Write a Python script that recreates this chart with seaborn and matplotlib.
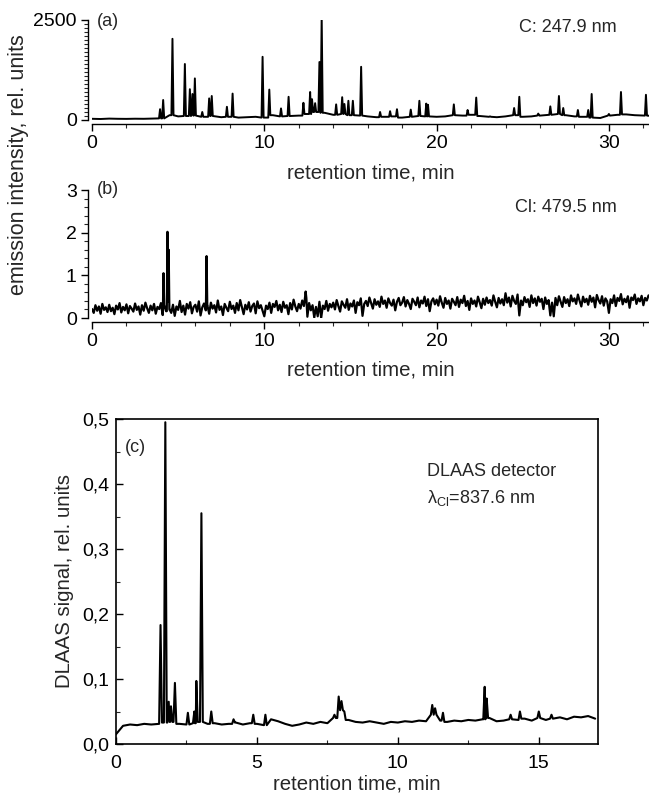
import numpy as np
import pandas as pd
import matplotlib
matplotlib.use("Agg")
import matplotlib.pyplot as plt
from matplotlib.ticker import MultipleLocator, FixedLocator, FuncFormatter
import seaborn as sns

# ---------------- data ----------------
# Panel (a): C 247.9 nm emission, baseline sampled every 0.5 min
a_step = 0.5
a_base = [30, 25, 35, 30, 28, 32, 30, 35, 40,
          120, 90, 100, 110, 80, 100, 70, 80,
          60, 70, 80, 60, 120, 90, 100, 110,
          150, 200, 180, 130, 150, 120, 110, 90,
          70, 80, 90, 60, 80, 100, 90, 80,
          90, 120, 110, 130, 100, 80, 70, 90,
          120, 80, 90, 110, 130, 150, 120, 90,
          80, 60, 50, 110, 130, 140, 120, 110, 100]
a_peak_t = [3.95, 4.13, 4.67, 5.39, 5.68, 5.83, 5.97, 6.4, 6.8, 6.95, 7.83, 8.16,
            9.9, 10.29, 10.97, 11.41, 12.27, 12.66, 12.77, 12.95, 13.2, 13.33,
            14.17, 14.52, 14.65, 14.88, 15.14, 15.62, 16.72, 17.3, 17.7, 18.5,
            19.0, 19.4, 19.5, 21.0, 21.8, 22.3, 23.1, 24.5, 24.8, 25.9, 26.6,
            27.1, 27.35, 28.2, 28.8, 29.0, 30.0, 30.7, 32.15]
a_peak_h = [270, 500, 2030, 1400, 770, 650, 1040, 200, 540, 600, 330, 660,
            1580, 760, 290, 580, 430, 700, 520, 420, 1450, 2580,
            390, 570, 400, 480, 480, 1330, 200, 220, 270, 260,
            480, 410, 380, 390, 250, 560, 90, 300, 580, 160, 340,
            600, 300, 250, 250, 650, 150, 700, 630]

# Panel (b): Cl 479.5 nm emission, sampled every 0.1 min
b_step = 0.1
b_base = [
    0.21, 0.12, 0.30, 0.17, 0.27, 0.10, 0.33, 0.19, 0.25, 0.14,
    0.31, 0.16, 0.24, 0.09, 0.29, 0.20, 0.35, 0.13, 0.26, 0.18,
    0.32, 0.11, 0.28, 0.22, 0.15, 0.34, 0.19, 0.27, 0.08, 0.30,
    0.17, 0.36, 0.23, 0.12, 0.29, 0.18, 0.33, 0.10, 0.26, 0.21,
    0.35, 0.07, 0.28, 0.16, 0.38, 0.20, 0.12, 0.31, 0.05, 0.27,
    0.19, 0.40, 0.14, 0.29, 0.08, 0.33, 0.22, 0.37, 0.11, 0.26,
    0.31, 0.15, 0.39, 0.06, 0.25, 0.34, 0.18, 0.29, 0.10, 0.36,
    0.22, 0.30, 0.13, 0.41, 0.19, 0.27, 0.07, 0.33, 0.24, 0.16,
    0.38, 0.21, 0.29, 0.12, 0.35, 0.18, 0.42, 0.25, 0.09, 0.31,
    0.20, 0.37, 0.15, 0.28, 0.34, 0.11, 0.39, 0.23, 0.30, 0.17,
    0.04, 0.29, 0.21, 0.36, 0.12, 0.33, 0.26, 0.40, 0.18, 0.31,
    0.14, 0.38, 0.24, 0.30, 0.09, 0.35, 0.20, 0.43, 0.27, 0.16,
    0.33, 0.22, 0.41, 0.28, 0.47, 0.03, 0.35, 0.18, 0.30, 0.01,
    0.26, 0.04, 0.38, 0.00, 0.29, 0.21, 0.40, 0.17, 0.33, 0.25,
    0.36, 0.20, 0.42, 0.28, 0.15, 0.39, 0.31, 0.24, 0.44, 0.19,
    0.34, 0.27, 0.41, 0.12, 0.37, 0.30, 0.46, 0.05, 0.33, 0.40,
    0.28, 0.48, 0.35, 0.22, 0.44, 0.31, 0.39, 0.26, 0.50, 0.33,
    0.41, 0.24, 0.46, 0.35, 0.29, 0.43, 0.18, 0.38, 0.47, 0.30,
    0.36, 0.49, 0.27, 0.42, 0.33, 0.21, 0.45, 0.38, 0.30, 0.48,
    0.25, 0.41, 0.34, 0.50, 0.28, 0.44, 0.16, 0.39, 0.46, 0.32,
    0.43, 0.29, 0.51, 0.36, 0.24, 0.47, 0.33, 0.41, 0.22, 0.45,
    0.38, 0.30, 0.49, 0.26, 0.43, 0.35, 0.52, 0.28, 0.40, 0.19,
    0.46, 0.33, 0.41, 0.27, 0.50, 0.37, 0.23, 0.45, 0.31, 0.48,
    0.35, 0.42, 0.29, 0.53, 0.38, 0.25, 0.47, 0.34, 0.44, 0.30,
    0.58, 0.36, 0.48, 0.27, 0.52, 0.40, 0.33, 0.55, 0.06, 0.41,
    0.30, 0.49, 0.37, 0.44, 0.26, 0.53, 0.35, 0.46, 0.29, 0.50,
    0.38, 0.45, 0.21, 0.48, 0.33, 0.42, 0.06, 0.36, 0.04, 0.47,
    0.30, 0.51, 0.38, 0.26, 0.49, 0.35, 0.44, 0.28, 0.53, 0.39,
    0.46, 0.33, 0.55, 0.40, 0.27, 0.50, 0.37, 0.45, 0.31, 0.52,
    0.38, 0.48, 0.25, 0.54, 0.42, 0.34, 0.51, 0.29, 0.46, 0.39,
    0.12, 0.44, 0.35, 0.53, 0.28, 0.47, 0.40, 0.56, 0.32, 0.45,
    0.37, 0.51, 0.24, 0.48, 0.42, 0.55, 0.33, 0.46, 0.39, 0.52,
    0.30, 0.47, 0.41, 0.53]
b_peak_t = [4.15, 4.38, 4.45, 6.65, 12.4]
b_peak_h = [1.05, 2.02, 1.60, 1.45, 0.62]

# Panel (c): DLAAS detector, sampled every 0.25 min
c_step = 0.25
c_base = [0.015, 0.028, 0.030, 0.029, 0.031, 0.030, 0.031, 0.033, 0.034, 0.031,
          0.030, 0.032, 0.034, 0.031, 0.032, 0.030, 0.031, 0.033, 0.030, 0.032,
          0.031, 0.029, 0.038, 0.035, 0.031, 0.028, 0.030, 0.033, 0.031, 0.034,
          0.032, 0.040, 0.052, 0.037, 0.034, 0.033, 0.035, 0.033, 0.031, 0.034,
          0.033, 0.035, 0.034, 0.036, 0.035, 0.045, 0.036, 0.034, 0.036, 0.035,
          0.037, 0.036, 0.038, 0.040, 0.035, 0.036, 0.038, 0.037, 0.039, 0.036,
          0.040, 0.037, 0.039, 0.041, 0.038, 0.042, 0.041, 0.043, 0.039]
c_peak_t = [1.58, 1.75, 1.87, 1.95, 2.09, 2.55, 2.78, 2.85, 3.03, 3.38, 4.17,
            4.87, 5.3, 7.75, 7.9, 8.0, 8.1, 11.22, 11.32, 11.6, 13.08, 13.15,
            14.0, 14.33, 15.0, 15.45]
c_peak_h = [0.183, 0.495, 0.065, 0.058, 0.094, 0.048, 0.050, 0.097, 0.355, 0.050,
            0.038, 0.045, 0.045, 0.045, 0.073, 0.066, 0.050, 0.060, 0.055, 0.048,
            0.088, 0.070, 0.045, 0.050, 0.050, 0.045]


def trace(step, base, pk_t, pk_h, w):
    t = np.arange(len(base)) * step
    base = np.asarray(base, float)
    keep = np.ones(len(t), bool)
    for p in pk_t:
        keep &= np.abs(t - p) > w
    xs = list(t[keep]); ys = list(base[keep])
    for p, h in zip(pk_t, pk_h):
        for dx, val in ((-w, None), (0, h), (w, None)):
            x = p + dx
            if val is None:
                val = base[int(np.clip(round(x / step), 0, len(base) - 1))]
            xs.append(x); ys.append(val)
    df = pd.DataFrame({"t": xs, "y": ys}).sort_values("t", kind="stable")
    return df


dfa = trace(a_step, a_base, a_peak_t, a_peak_h, 0.06)
dfb = trace(b_step, b_base, b_peak_t, b_peak_h, 0.04)
dfc = trace(c_step, c_base, c_peak_t, c_peak_h, 0.05)

# ---------------- figure ----------------
sns.set_style("ticks")
plt.rcParams["font.family"] = ["Liberation Sans", "DejaVu Sans"]
plt.rcParams["mathtext.fontset"] = "custom"
plt.rcParams["mathtext.rm"] = "Liberation Sans"
plt.rcParams["mathtext.it"] = "Liberation Sans:italic"

W, H = 649, 801
fig = plt.figure(figsize=(W / 100, H / 100), dpi=100)

def box(x0, y_top, x1, y_bot):
    return [x0 / W, 1 - y_bot / H, (x1 - x0) / W, (y_bot - y_top) / H]

axa = fig.add_axes(box(92, 20, 649, 120))
axb = fig.add_axes(box(92, 190, 649, 318))
axc = fig.add_axes(box(116, 419, 598, 744))

FS = 13
TFS = 14
LFS = 14.7
for ax, df, lw in ((axa, dfa, 1.4), (axb, dfb, 1.6), (axc, dfc, 1.5)):
    sns.lineplot(data=df, x="t", y="y", ax=ax, color="black", lw=lw,
                 estimator=None, sort=False)
    ax.set_ylabel("")
    ax.tick_params(labelsize=TFS, colors="black")

axa.set_xlabel("retention time, min", fontsize=LFS, labelpad=8)
axb.set_xlabel("retention time, min", fontsize=LFS, labelpad=7)
axc.set_xlabel("retention time, min", fontsize=LFS, labelpad=2)

# (a)
axa.set_xlim(0, 557 / 17.23)
axa.set_ylim(0, 2500)
axa.yaxis.set_major_locator(FixedLocator([0, 2500]))
axa.yaxis.set_minor_locator(MultipleLocator(100))
# (b)
axb.set_xlim(0, 557 / 17.23)
axb.set_ylim(0, 3)
axb.yaxis.set_major_locator(MultipleLocator(1))
axb.yaxis.set_minor_locator(MultipleLocator(0.2))
for ax in (axa, axb):
    ax.xaxis.set_major_locator(MultipleLocator(10))
    ax.xaxis.set_minor_locator(MultipleLocator(2))
    sns.despine(ax=ax, offset=3)
    ax.tick_params(which="major", direction="out", length=5, width=1, pad=3)
    ax.tick_params(which="minor", direction="out", length=3, width=0.8)
    for s in ("left", "bottom"):
        ax.spines[s].set_linewidth(1.0)
        ax.spines[s].set_color("black")

# (c)
axc.set_xlim(0, 17.1)
axc.set_ylim(0, 0.5)
axc.xaxis.set_major_locator(MultipleLocator(5))
axc.xaxis.set_minor_locator(MultipleLocator(2.5))
axc.yaxis.set_major_locator(MultipleLocator(0.1))
axc.yaxis.set_minor_locator(MultipleLocator(0.05))
axc.yaxis.set_major_formatter(FuncFormatter(lambda v, p: f"{v:.1f}".replace(".", ",")))
axc.tick_params(which="major", direction="in", length=5, width=1, pad=5)
axc.tick_params(axis="x", which="major", pad=8)
axc.tick_params(which="minor", direction="in", length=3, width=0.8)
for s in axc.spines.values():
    s.set_linewidth(1.2)
    s.set_color("black")
axc.set_ylabel("DLAAS signal, rel. units", fontsize=LFS, labelpad=6)

# texts
fig.text(19 / W, 1 - 165 / H, "emission intensity, rel. units", rotation=90,
         ha="center", va="center", fontsize=15.5)
fig.text(97 / W, 1 - 21 / H, "(a)", ha="left", va="center", fontsize=FS)
fig.text(568 / W, 1 - 28 / H, "C: 247.9 nm", ha="center", va="center", fontsize=FS)
fig.text(97 / W, 1 - 190 / H, "(b)", ha="left", va="center", fontsize=FS)
fig.text(566 / W, 1 - 208 / H, "Cl: 479.5 nm", ha="center", va="center", fontsize=FS)
fig.text(125 / W, 1 - 448 / H, "(c)", ha="left", va="center", fontsize=FS)
fig.text(427 / W, 1 - 472 / H, "DLAAS detector", ha="left", va="center", fontsize=FS)
fig.text(427 / W, 1 - 498 / H, r"λ$_{\mathrm{Cl}}$=837.6 nm", ha="left", va="center", fontsize=FS)

fig.savefig("out.png", dpi=100, facecolor="white")
